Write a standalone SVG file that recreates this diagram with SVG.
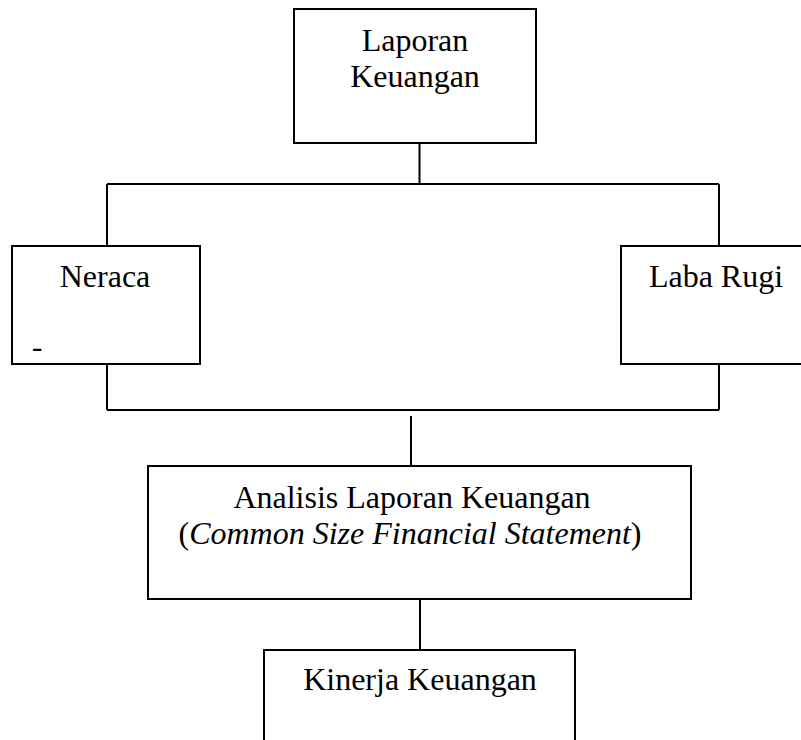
<svg xmlns="http://www.w3.org/2000/svg" width="801" height="740" viewBox="0 0 801 740">
<style>
.box{fill:#fff;stroke:#000;stroke-width:2}
.ln{fill:none;stroke:#000;stroke-width:2}
text{font-size:32px;fill:#000;text-anchor:middle}
</style>
<rect width="801" height="740" fill="#fff"/>
<g id="connectors">
<path class="ln" d="M419.5 143V184M107 184H719M107 184V246M719 184V246M107 364V410M719 364V410M107 410H719M411 416V466M420 599V650"/>
</g>
<g font-family="'Liberation Serif', 'DejaVu Serif', serif">
<g id="laporan">
<rect class="box" x="294" y="9" width="242" height="134"/>
<text x="415" y="51">Laporan</text>
<text x="415" y="87">Keuangan</text>
</g>
<g id="neraca">
<rect class="box" x="12" y="246" width="188" height="118"/>
<text x="105" y="287">Neraca</text>
<text x="37" y="357">-</text>
</g>
<g id="labarugi">
<rect class="box" x="621" y="246" width="190" height="118"/>
<text x="716" y="287">Laba Rugi</text>
</g>
<g id="analisis">
<rect class="box" x="148" y="466" width="543" height="133"/>
<text x="412" y="508">Analisis Laporan Keuangan</text>
<text x="410" y="544">(<tspan font-style="italic">Common Size Financial Statement</tspan>)</text>
</g>
<g id="kinerja">
<rect class="box" x="264" y="650" width="311" height="100"/>
<text x="420" y="690">Kinerja Keuangan</text>
</g>
</g>
</svg>
